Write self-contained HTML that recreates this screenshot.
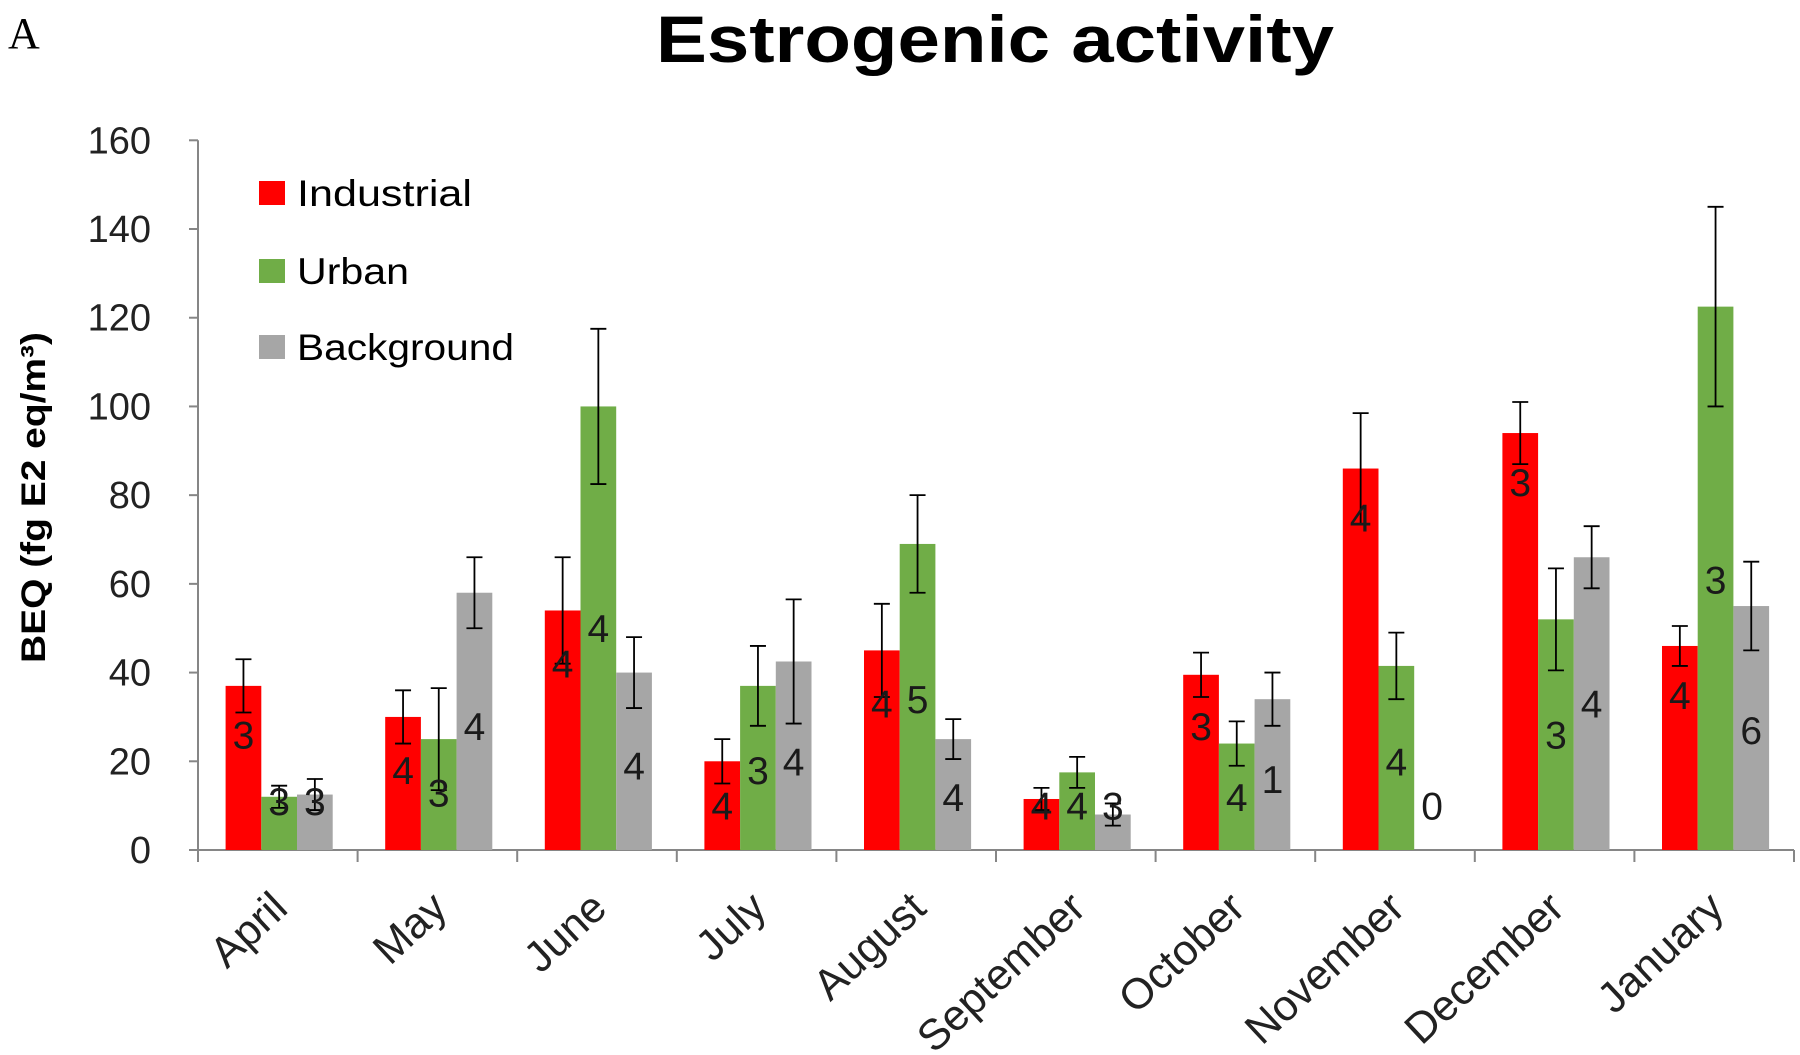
<!DOCTYPE html>
<html><head><meta charset="utf-8"><style>
html,body{margin:0;padding:0;background:#fff;}
svg{display:block;font-family:"Liberation Sans",sans-serif;}
</style></head><body>
<svg id="chart" width="1800" height="1055" viewBox="0 0 1800 1055">
<text x="8" y="48" font-family="Liberation Serif" font-size="44">A</text>
<text x="656" y="62" font-weight="bold" font-size="66" textLength="678" lengthAdjust="spacingAndGlyphs">Estrogenic activity</text>
<text transform="translate(45,497) rotate(-90)" x="-166" y="0" font-weight="bold" font-size="34" textLength="331" lengthAdjust="spacingAndGlyphs">BEQ (fg E2 eq/m³)</text>
<g id="legend">
<rect x="259" y="181" width="26" height="24" fill="#ff0000"/>
<text x="297" y="206" font-size="37" textLength="175" lengthAdjust="spacingAndGlyphs">Industrial</text>
<rect x="259" y="259" width="26" height="24" fill="#70ad47"/>
<text x="297" y="284" font-size="37" textLength="112" lengthAdjust="spacingAndGlyphs">Urban</text>
<rect x="259" y="335" width="26" height="24" fill="#a6a6a6"/>
<text x="297" y="360" font-size="37" textLength="217" lengthAdjust="spacingAndGlyphs">Background</text>
</g>
<g id="plot"></g>
</svg>
<script>
const categories=["April","May","June","July","August","September","October","November","December","January"];
const industrial=[37,30,54,20,45,11.5,39.5,86,94,46];
const industrialUpper=[43,36,66,25,55.5,14,44.5,98.5,101,50.5];
const urban=[12,25,100,37,69,17.5,24,41.5,52,122.5];
const urbanUpper=[14.5,36.5,117.5,46,80,21,29,49,63.5,145];
const background=[12.5,58,40,42.5,25,8,34,0,66,55];
const backgroundUpper=[16,66,48,56.5,29.5,10.5,40,0,73,65];
const industrialN=[3,4,4,4,4,4,3,4,3,4];
const urbanN=[3,3,4,3,5,4,4,4,3,3];
const backgroundN=[3,4,4,4,4,3,1,0,4,6];
const industrialLabelAt=[26,18,42,10,33,10,28,75,83,35];
const urbanLabelAt=[11,13,50,18,34,10,12,20,26,61];
const backgroundLabelAt=[11,28,19,20,12,10,16,10,33,27];
const yTicks=[0,20,40,60,80,100,120,140,160];

const NS="http://www.w3.org/2000/svg";
const plot=document.getElementById('plot');
const x0=198,x1=1794,y0=850,yTop=140.3,yMax=160;
const catW=(x1-x0)/categories.length;
const barW=35.7;
function y(v){return y0-(v/yMax)*(y0-yTop);}
function bx(i,s){return x0+i*catW+27.6+s*barW;}
function mk(tag,attrs){const e=document.createElementNS(NS,tag);for(const k in attrs)e.setAttribute(k,attrs[k]);plot.appendChild(e);return e;}

let ax=mk('line',{x1:x0,y1:yTop,x2:x0,y2:y0,stroke:'#868686','stroke-width':2});


let axx=mk('line',{x1:x0,y1:y0,x2:x1,y2:y0,stroke:'#868686','stroke-width':2});


yTicks.forEach(t=>{
  let l=mk('line',{x1:x0-9,y1:y(t),x2:x0,y2:y(t),stroke:'#868686','stroke-width':2});
  
  
  let tx=mk('text',{x:151,y:y(t)+13,'text-anchor':'end','font-size':38,fill:'#222'});
  tx.textContent=t;
  
  
});
for(let i=0;i<=categories.length;i++){
  let l=mk('line',{x1:x0+i*catW,y1:y0,x2:x0+i*catW,y2:y0+12,stroke:'#868686','stroke-width':2});
  
  
}
const series=[
 {name:'industrial',vals:industrial,up:industrialUpper,n:industrialN,lab:industrialLabelAt,color:'#ff0000'},
 {name:'urban',vals:urban,up:urbanUpper,n:urbanN,lab:urbanLabelAt,color:'#70ad47'},
 {name:'background',vals:background,up:backgroundUpper,n:backgroundN,lab:backgroundLabelAt,color:'#a6a6a6'}];
categories.forEach((c,i)=>{
  series.forEach((s,si)=>{
    const v=s.vals[i],xx=bx(i,si);
    let r=mk('rect',{x:xx,y:y(v),width:barW,height:y0-y(v),fill:s.color});
    
    
    if(s.up[i]>v){
      const lo=2*v-s.up[i],cx=xx+barW/2;
      let e=mk('path',{d:`M${cx},${y(s.up[i])}V${y(lo)}M${cx-8},${y(s.up[i])}H${cx+8}M${cx-8},${y(lo)}H${cx+8}`,stroke:'#000','stroke-width':1.8,fill:'none'});
      
      
    }
    let t=mk('text',{x:xx+barW/2,y:y(s.lab[i])+14,'text-anchor':'middle','font-size':39,fill:'#1a1a1a'});
    t.textContent=s.n[i];
    
    
  });
  const cx=x0+(i+0.5)*catW+12;
  let m=mk('text',{transform:`translate(${cx},911) rotate(-43)`,'text-anchor':'end','font-size':43,fill:'#222'});
  m.textContent=c;
  
  
});
</script>
</body></html>
